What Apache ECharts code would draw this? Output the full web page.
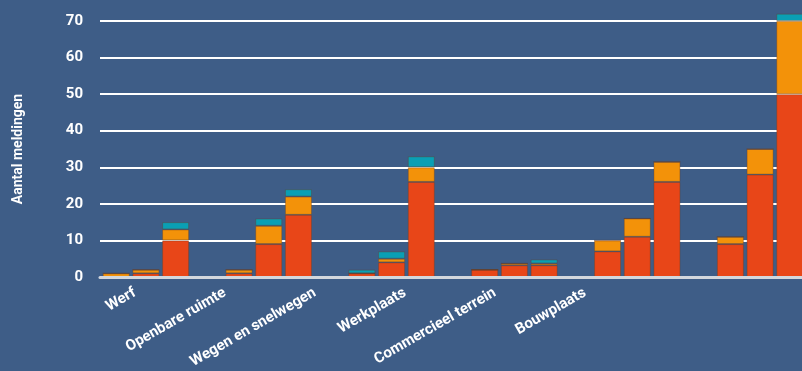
<!DOCTYPE html>
<html>
<head>
<meta charset="utf-8">
<script src="https://cdn.jsdelivr.net/npm/echarts@6/dist/echarts.min.js"></script>
<style>
  html, body { margin: 0; padding: 0; background: #3e5d87; overflow: hidden; }
  /* the plot runs on past the right edge of the window */
  #chart { width: 822px; height: 371px; }
</style>
</head>
<body>
<div id="chart"></div>
<script>
// Categories (locations of the reports)
const categories = ['Werf', 'Openbare ruimte', 'Wegen en snelwegen', 'Werkplaats', 'Commercieel terrein', 'Bouwplaats'];

// Y-axis ticks
const yTicks = { min: 0, max: 70, interval: 10 };

// Three bars per category; each stacked red / orange / teal
const bar1Red    = [0, 1, 1, 2, 7, 9];
const bar1Orange = [1, 1, 0, 0, 3, 2];
const bar1Teal   = [0, 0, 1, 0, 0, 0];

const bar2Red    = [1, 9, 4, 3.2, 11, 28];
const bar2Orange = [1, 5, 1, 0.5, 5, 7];
const bar2Teal   = [0, 2, 2, 0, 0, 0];

const bar3Red    = [10, 17, 26, 3.2, 26, 50];
const bar3Orange = [3, 5, 4, 0.5, 5.5, 20];
const bar3Teal   = [2, 2, 3, 1.1, 0, 2];

const RED = '#e84618', ORANGE = '#f39209', TEAL = '#0a9fb4';
const FONT = 'Roboto';

function seg(name, stack, data, color) {
  return {
    name: name,
    type: 'bar',
    xAxisIndex: 0,
    yAxisIndex: 0,
    stack: stack,
    data: data,
    barWidth: 27,
    barGap: '10%',
    clip: false,
    itemStyle: { color: color, borderColor: 'rgba(110,60,30,0.35)', borderWidth: 1 },
    emphasis: { disabled: true }
  };
}

const chart = echarts.init(document.getElementById('chart'), null, { renderer: 'canvas' });
chart.setOption({
  backgroundColor: '#3e5d87',
  animation: false,
  grid: [
    // bars
    { left: 84.5, width: 737, top: 21, bottom: 94 },
    // gridlines, y labels and baseline
    { left: 100, right: 20, top: 21, bottom: 94 },
    // category labels
    { left: 90, width: 540, top: 21, bottom: 94 }
  ],
  xAxis: [
    { gridIndex: 0, type: 'category', data: categories, show: false },
    { gridIndex: 1, type: 'value', min: 0, max: 1, z: 5,
      axisLine: { show: true, lineStyle: { color: '#d3d7dd', width: 3 } },
      axisTick: { show: false }, axisLabel: { show: false }, splitLine: { show: false } },
    { gridIndex: 2, type: 'category', data: categories,
      axisLine: { show: false }, axisTick: { show: false },
      axisLabel: { color: '#ffffff', fontFamily: FONT, fontWeight: 'bold', fontSize: 15,
                   rotate: 30, margin: 16, interval: 0 } }
  ],
  yAxis: [
    { gridIndex: 0, type: 'value', min: yTicks.min, max: yTicks.max, interval: yTicks.interval, show: false },
    { gridIndex: 1, type: 'value', min: yTicks.min, max: yTicks.max, interval: yTicks.interval,
      name: 'Aantal meldingen', nameLocation: 'middle', nameGap: 75, nameRotate: 90,
      nameTextStyle: { color: '#ffffff', fontFamily: FONT, fontWeight: 'bold', fontSize: 14 },
      axisLine: { show: false }, axisTick: { show: false },
      axisLabel: { color: '#ffffff', fontFamily: FONT, fontWeight: 'bold', fontSize: 15, margin: 17 },
      splitLine: { show: true, lineStyle: { color: '#ffffff', width: 2 } } },
    { gridIndex: 2, type: 'value', show: false }
  ],
  series: [
    seg('A rood', 'a', bar1Red, RED),
    seg('A oranje', 'a', bar1Orange, ORANGE),
    seg('A blauw', 'a', bar1Teal, TEAL),
    seg('B rood', 'b', bar2Red, RED),
    seg('B oranje', 'b', bar2Orange, ORANGE),
    seg('B blauw', 'b', bar2Teal, TEAL),
    seg('C rood', 'c', bar3Red, RED),
    seg('C oranje', 'c', bar3Orange, ORANGE),
    seg('C blauw', 'c', bar3Teal, TEAL)
  ]
});
</script>
</body>
</html>
